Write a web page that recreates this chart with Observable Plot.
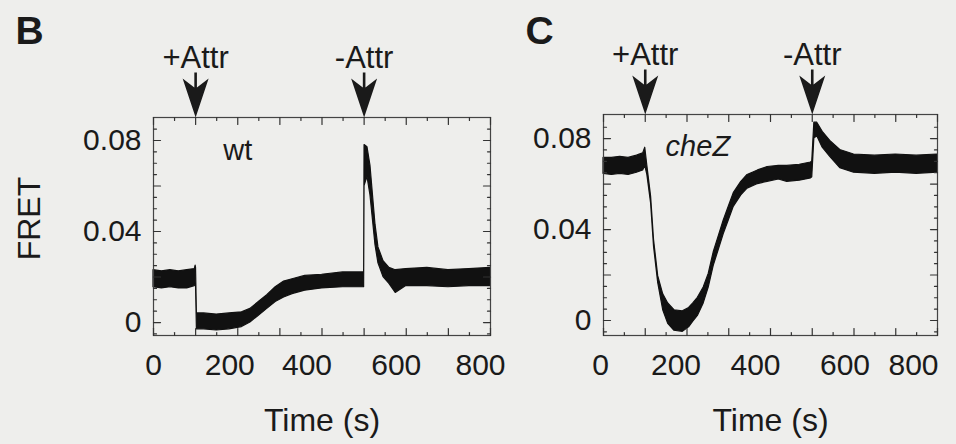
<!DOCTYPE html>
<html><head><meta charset="utf-8">
<script src="https://cdn.jsdelivr.net/npm/d3@7"></script>
<script src="https://cdn.jsdelivr.net/npm/@observablehq/plot@0.6"></script>
<style>
body{margin:0;background:#eeeeec;}
#wrap{display:flex;width:956px;height:444px;}
svg{display:block;}
</style></head><body><div id="wrap"></div>
<script>
// ---- Panel B (wt) : envelope of the noisy FRET trace ----
const timeB = [0, 20, 40, 60, 80, 98, 100, 101, 103, 120, 150, 180, 210, 230, 250, 270, 290, 310, 330, 360, 400, 450, 498, 500, 501, 508, 515, 527, 534, 546, 560, 575, 600, 650, 700, 750, 800];
const hiB   = [0.023, 0.0225, 0.023, 0.0225, 0.023, 0.0235, 0.025, 0.024, 0.004, 0.004, 0.0035, 0.004, 0.0045, 0.006, 0.009, 0.012, 0.0155, 0.018, 0.019, 0.0205, 0.021, 0.022, 0.022, 0.022, 0.078, 0.077, 0.069, 0.043, 0.033, 0.027, 0.024, 0.023, 0.0235, 0.024, 0.023, 0.0235, 0.024];
const loB   = [0.0155, 0.015, 0.0155, 0.015, 0.015, 0.016, 0.017, 0.016, -0.003, -0.003, -0.0035, -0.003, -0.002, 0, 0.003, 0.006, 0.009, 0.011, 0.0125, 0.014, 0.015, 0.0155, 0.0155, 0.0155, 0.060, 0.064, 0.056, 0.034, 0.026, 0.020, 0.017, 0.013, 0.016, 0.016, 0.0155, 0.016, 0.016];

// ---- Panel C (cheZ) ----
const timeC = [0, 20, 40, 60, 80, 95, 100, 105, 114, 121, 131, 143, 155, 170, 190, 205, 215, 226, 240, 252, 264, 276, 288, 300, 312, 330, 345, 370, 393, 420, 440, 470, 497, 500, 505, 512, 525, 543, 567, 600, 650, 700, 750, 800];
const hiC   = [0.0715, 0.0715, 0.072, 0.0715, 0.0725, 0.0735, 0.076, 0.068, 0.0545, 0.0355, 0.0195, 0.0115, 0.0075, 0.0045, 0.004, 0.0055, 0.0075, 0.010, 0.0145, 0.0205, 0.030, 0.037, 0.044, 0.050, 0.056, 0.061, 0.064, 0.066, 0.0675, 0.068, 0.068, 0.0685, 0.0695, 0.070, 0.087, 0.087, 0.083, 0.079, 0.075, 0.073, 0.0725, 0.073, 0.0725, 0.073];
const loC   = [0.0645, 0.064, 0.0645, 0.064, 0.065, 0.066, 0.068, 0.064, 0.0515, 0.0325, 0.0165, 0.0045, -0.0015, -0.0045, -0.005, -0.003, -0.0005, 0.002, 0.0075, 0.0145, 0.024, 0.031, 0.038, 0.044, 0.050, 0.055, 0.058, 0.060, 0.061, 0.062, 0.061, 0.0615, 0.0625, 0.063, 0.080, 0.081, 0.076, 0.072, 0.067, 0.065, 0.0645, 0.065, 0.0645, 0.065];

// ---- events, ticks, labels ----
const eventTimes  = [100, 500];
const eventLabels = ["+Attr", "-Attr"];
const xTickLabels = [0, 200, 400, 600, 800];
const yTickLabels = [0, 0.04, 0.08];
const xMajorTicks = [0, 100, 200, 300, 400, 500, 600, 700, 800];
const xMinorTicks = [50, 150, 250, 350, 450, 550, 650, 750];
const yMajorTicks = [0, 0.02, 0.04, 0.06, 0.08];
const yMinorTicks = [-0.005, 0.005, 0.01, 0.015, 0.025, 0.03, 0.035, 0.045, 0.05, 0.055, 0.065, 0.07, 0.075, 0.085];

const FONT = '"Liberation Sans", Arial, Helvetica, sans-serif';
const INK = "#1a1a1a";

const tickShape = {draw(c, l) { c.moveTo(0, 0); c.lineTo(0, -l); }};
const arrowHead = {draw(c) {
  c.moveTo(0, 0); c.lineTo(-13, -39); c.lineTo(-1.3, -30); c.lineTo(-1.3, -45);
  c.lineTo(1.3, -45); c.lineTo(1.3, -30); c.lineTo(13, -39); c.closePath();
}};

function ticks(len, data, key, anchor, rotate) {
  return Plot.vector(data, {[key]: d => d, frameAnchor: anchor, length: len, rotate, anchor: "start", shape: tickShape, stroke: "#333", strokeWidth: 1.2});
}

function panel({time, lo, hi, width, marginLeft, marginRight, marginTop, yDomain, letter, name, italic, nameAt, labelShift}) {
  const rows = time.map((t, i) => ({t, lo: lo[i], hi: hi[i]}));
  return Plot.plot({
    width, height: 444, marginLeft, marginRight, marginTop, marginBottom: 109,
    style: {fontSize: "30px", fontFamily: FONT, color: INK, background: "transparent", overflow: "visible"},
    x: {domain: [0, 800], axis: null},
    y: {domain: yDomain},
    marks: [
      Plot.areaY(rows, {x: "t", y1: "lo", y2: "hi", fill: "#111", stroke: "#111", strokeWidth: 1.2}),
      Plot.frame({stroke: "#444", strokeWidth: 1.2}),
      ticks(7, xMajorTicks, "x", "bottom", 0),
      ticks(3, xMinorTicks, "x", "bottom", 0),
      ticks(7, xMajorTicks, "x", "top", 180),
      ticks(3, xMinorTicks, "x", "top", 180),
      ticks(7, yMajorTicks, "y", "left", 90),
      ticks(3, yMinorTicks, "y", "left", 90),
      ticks(7, yMajorTicks, "y", "right", -90),
      ticks(3, yMinorTicks, "y", "right", -90),
      // x tick labels (positioned by the x scale; small optical offsets as in the scan)
      ...xTickLabels.map((v, i) => Plot.text([v], {x: d => d, frameAnchor: "bottom", text: d => String(d), dy: 30, dx: labelShift[i], lineAnchor: "middle", textAnchor: "middle", fontSize: 30})),
      Plot.axisY({ticks: yTickLabels, tickSize: 0, tickPadding: 12, label: null, tickFormat: d => d === 0 ? "0" : d.toFixed(2)}),
      Plot.dot(eventTimes, {x: d => d, frameAnchor: "top", symbol: arrowHead, fill: INK, stroke: null, r: 10}),
      Plot.text(eventTimes, {x: d => d, frameAnchor: "top", text: (d, i) => eventLabels[i], dy: -50, lineAnchor: "bottom", textAnchor: "middle", fontSize: 31}),
      Plot.text([name], {x: nameAt[0], y: nameAt[1], text: d => d, fontSize: 29, fontStyle: italic ? "italic" : "normal"}),
      Plot.text(["Time (s)"], {frameAnchor: "bottom", text: d => d, dy: 85, lineAnchor: "middle", textAnchor: "middle", fontSize: 32}),
      Plot.text([letter], {frameAnchor: "top-left", text: d => d, dx: (letter === "B" ? 15 : 25) - marginLeft, dy: 43 - marginTop, lineAnchor: "bottom", textAnchor: "start", fontSize: 39, fontWeight: "bold"}),
      ...(letter === "B" ? [Plot.text(["FRET"], {y: 0.0457, frameAnchor: "left", text: d => d, rotate: -90, dx: 29 - marginLeft, lineAnchor: "middle", textAnchor: "middle", fontSize: 32})] : [])
    ]
  });
}

const wrap = document.getElementById("wrap");
wrap.append(panel({time: timeB, lo: loB, hi: hiB, width: 500, marginLeft: 153, marginRight: 10, marginTop: 117, yDomain: [-0.0057, 0.0901], letter: "B", name: "wt", italic: false, nameAt: [200, 0.0756], labelShift: [0, -8, -15, -10, -10]}));
wrap.append(panel({time: timeC, lo: loC, hi: hiC, width: 456, marginLeft: 103, marginRight: 19, marginTop: 114, yDomain: [-0.0066, 0.0906], letter: "C", name: "cheZ", italic: true, nameAt: [226, 0.0764], labelShift: [-3, -11, -15, -9, -24]}));
</script>
</body></html>
